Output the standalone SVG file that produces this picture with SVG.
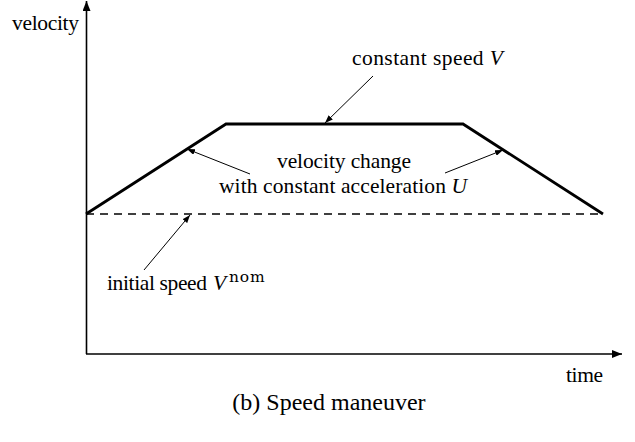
<svg xmlns="http://www.w3.org/2000/svg" width="635" height="442" viewBox="0 0 635 442">
  <style>
    text { font-family: 'Liberation Serif', 'DejaVu Serif', serif; font-size: 21.5px; fill: #000; }
    .it { font-style: italic; }
    .sup { font-family: 'DejaVu Serif', 'Liberation Serif', serif; font-size: 15.5px; letter-spacing: 0.8px; }
    .axis { stroke: #000; stroke-width: 1.6; fill: none; }
    .profile { stroke: #000; stroke-width: 2.8; fill: none; stroke-linejoin: miter; }
    .nominal { stroke: #000; stroke-width: 1.6; fill: none; stroke-dasharray: 8 6; }
    .pointer { stroke: #000; stroke-width: 1; fill: none; }
    .caption { font-size: 24px; }
  </style>
  <defs>
    <marker id="axisHead" viewBox="0 0 10 8" refX="10" refY="4" markerWidth="10" markerHeight="8" markerUnits="userSpaceOnUse" orient="auto">
      <path d="M0,0 L10,4 L0,8 Z" fill="#000"/>
    </marker>
    <marker id="tipHead" viewBox="0 0 8 6" refX="8" refY="3" markerWidth="8" markerHeight="6" markerUnits="userSpaceOnUse" orient="auto">
      <path d="M0,0 L8,3 L0,6 Z" fill="#000"/>
    </marker>
  </defs>

  <!-- coordinate axes -->
  <g id="axes">
    <line class="axis" x1="86.5" y1="354" x2="86.5" y2="1" marker-end="url(#axisHead)"/>
    <line class="axis" x1="86" y1="354" x2="622" y2="354" marker-end="url(#axisHead)"/>
    <text id="label-velocity" x="12" y="30" textLength="67">velocity</text>
    <text id="label-time" x="566" y="382" textLength="37">time</text>
  </g>

  <!-- nominal speed level -->
  <g id="nominal-speed">
    <line class="nominal" x1="86" y1="214" x2="603" y2="214"/>
  </g>

  <!-- speed profile: accelerate, hold, decelerate -->
  <g id="speed-profile">
    <polyline class="profile" points="86,214 226,124 463,124 603,214"/>
  </g>

  <!-- annotation labels -->
  <g id="note-constant">
    <text x="352" y="65" textLength="151">constant speed <tspan class="it">V</tspan></text>
  </g>
  <g id="note-acceleration">
    <text x="277" y="168" textLength="134">velocity change</text>
    <text x="219" y="193" textLength="248">with constant acceleration <tspan class="it">U</tspan></text>
  </g>
  <g id="note-initial">
    <text x="107" y="290" textLength="100">initial speed</text>
    <text class="it" x="213" y="290">V</text>
    <text class="sup" x="229" y="282">nom</text>
  </g>

  <!-- pointers from labels to the curve -->
  <g id="connectors">
    <line class="pointer" x1="373" y1="76" x2="325" y2="123" marker-end="url(#tipHead)"/>
    <line class="pointer" x1="250" y1="174" x2="187" y2="149" marker-end="url(#tipHead)"/>
    <line class="pointer" x1="445" y1="173" x2="503" y2="150" marker-end="url(#tipHead)"/>
    <line class="pointer" x1="144" y1="270" x2="190" y2="215" marker-end="url(#tipHead)"/>
  </g>

  <g id="caption">
    <text class="caption" x="329" y="410" text-anchor="middle">(b) Speed maneuver</text>
  </g>
</svg>
